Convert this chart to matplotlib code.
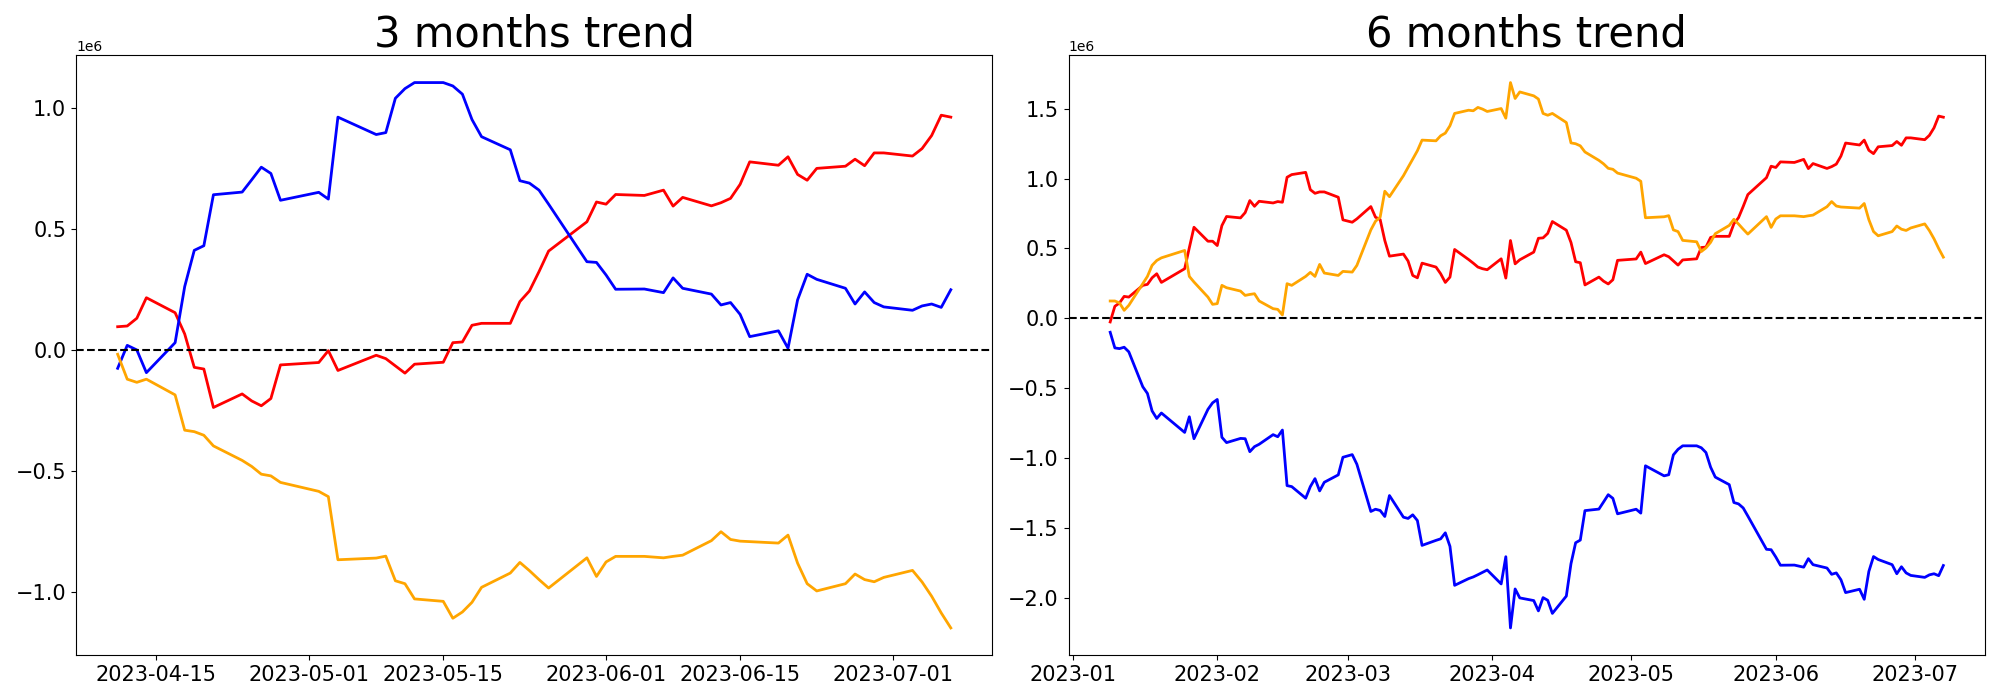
import pandas as pd
import matplotlib
matplotlib.use("Agg")
import matplotlib.pyplot as plt

# ----------------------------
# trading calendar (KRX holidays in window)
# ----------------------------
krx_holidays = ["2023-01-23", "2023-01-24", "2023-03-01", "2023-05-01",
                "2023-05-05", "2023-05-29", "2023-06-06"]

dates_3m = pd.bdate_range("2023-04-11", "2023-07-07", freq="C", holidays=krx_holidays)
dates_6m = pd.bdate_range("2023-01-09", "2023-07-07", freq="C", holidays=krx_holidays)

# ----------------------------
# 3 months (cumulative, 1e6)
# ----------------------------
red_3m = [0.096, 0.099, 0.131, 0.216, 0.154, 0.066, -0.072, -0.079, -0.238, -0.182, -0.211, -0.231, -0.201, -0.062,
          -0.052, -0.003, -0.085, -0.022, -0.036, -0.066, -0.096, -0.059, -0.051, 0.030, 0.033, 0.102, 0.110, 0.110,
          0.200, 0.244, 0.324, 0.409, 0.530, 0.612,
          0.603, 0.643, 0.639, 0.661, 0.595, 0.631, 0.596, 0.609, 0.627, 0.685, 0.778, 0.764, 0.799, 0.726, 0.702,
          0.751, 0.760, 0.789, 0.762, 0.815, 0.815,
          0.802, 0.833, 0.887, 0.971, 0.963]
blue_3m = [-0.076, 0.019, 0.000, -0.094, 0.030, 0.262, 0.412, 0.431, 0.642, 0.653, 0.704, 0.756, 0.730, 0.619,
           0.652, 0.624, 0.963, 0.891, 0.899, 1.041, 1.081, 1.106, 1.106, 1.092, 1.058, 0.953, 0.882, 0.828,
           0.700, 0.690, 0.661, 0.603, 0.365, 0.362,
           0.310, 0.251, 0.252, 0.237, 0.298, 0.255, 0.231, 0.186, 0.196, 0.147, 0.055, 0.079, 0.007, 0.207, 0.313,
           0.292, 0.255, 0.190, 0.240, 0.196, 0.178,
           0.164, 0.182, 0.190, 0.176, 0.249]
orange_3m = [-0.018, -0.121, -0.134, -0.121, -0.186, -0.332, -0.338, -0.353, -0.397, -0.457, -0.482, -0.514, -0.521, -0.548,
             -0.585, -0.607, -0.868, -0.861, -0.853, -0.955, -0.967, -1.030, -1.040, -1.110, -1.084, -1.044, -0.982, -0.923,
             -0.879, -0.913, -0.950, -0.985, -0.860, -0.937,
             -0.877, -0.854, -0.854, -0.860, -0.854, -0.849, -0.789, -0.752, -0.784, -0.791, -0.793, -0.799, -0.766, -0.882, -0.967,
             -0.997, -0.967, -0.927, -0.950, -0.959, -0.941,
             -0.912, -0.960, -1.019, -1.088, -1.150]

# ----------------------------
# 6 months (cumulative, 1e6)
# ----------------------------
red_6m = [-0.026, 0.086, 0.110, 0.157, 0.152, 0.236, 0.243, 0.290, 0.319, 0.257, 0.355, 0.505, 0.652, 0.552, 0.552,
          0.521, 0.664, 0.729, 0.719, 0.757, 0.843, 0.802, 0.838, 0.826, 0.836, 0.831, 1.010, 1.029, 1.045, 0.921,
          0.895, 0.905, 0.905, 0.867, 0.705,
          0.688, 0.712, 0.800, 0.724, 0.707, 0.557, 0.445, 0.460, 0.410, 0.307, 0.290, 0.395, 0.367, 0.319, 0.257,
          0.295, 0.493, 0.421, 0.395, 0.367, 0.355, 0.348,
          0.426, 0.288, 0.557, 0.390, 0.419, 0.474,
          0.573, 0.576, 0.608, 0.693, 0.631, 0.543, 0.405, 0.398, 0.239, 0.295, 0.266, 0.246, 0.276, 0.415,
          0.425, 0.474, 0.392, 0.455, 0.441, 0.411, 0.381, 0.418, 0.426, 0.507, 0.510, 0.579, 0.587, 0.587,
          0.677, 0.721, 0.801, 0.886, 1.007, 1.089,
          1.080, 1.120, 1.116, 1.138, 1.072, 1.108, 1.073, 1.086, 1.104, 1.162, 1.255, 1.241, 1.276, 1.203, 1.179,
          1.228, 1.237, 1.266, 1.239, 1.292, 1.292,
          1.279, 1.310, 1.364, 1.448, 1.440]
blue_6m = [-0.100, -0.212, -0.217, -0.207, -0.240, -0.490, -0.538, -0.663, -0.717, -0.678, -0.817, -0.705, -0.862, -0.652, -0.605,
           -0.581, -0.852, -0.890, -0.860, -0.862, -0.955, -0.919, -0.902, -0.833, -0.848, -0.800, -1.198, -1.205, -1.288, -1.205,
           -1.148, -1.236, -1.174, -1.121, -0.995,
           -0.976, -1.045, -1.383, -1.367, -1.376, -1.419, -1.269, -1.424, -1.433, -1.407, -1.448, -1.626, -1.590, -1.579, -1.536,
           -1.633, -1.912, -1.864, -1.852, -1.836, -1.819, -1.802,
           -1.902, -1.707, -2.217, -1.938, -2.002, -2.021,
           -2.095, -2.000, -2.019, -2.113, -1.989, -1.757, -1.607, -1.588, -1.377, -1.366, -1.315, -1.263, -1.289, -1.400,
           -1.367, -1.395, -1.056, -1.128, -1.120, -0.978, -0.938, -0.913, -0.913, -0.927, -0.961, -1.066, -1.137, -1.191,
           -1.319, -1.329, -1.358, -1.416, -1.654, -1.657,
           -1.709, -1.768, -1.767, -1.782, -1.721, -1.764, -1.788, -1.833, -1.823, -1.872, -1.964, -1.940, -2.012, -1.812, -1.706,
           -1.727, -1.764, -1.829, -1.779, -1.823, -1.841,
           -1.855, -1.837, -1.829, -1.843, -1.770]
orange_6m = [0.124, 0.124, 0.110, 0.057, 0.093, 0.248, 0.300, 0.379, 0.414, 0.433, 0.486, 0.300, 0.260, 0.152, 0.100,
             0.105, 0.236, 0.219, 0.195, 0.164, 0.171, 0.176, 0.124, 0.069, 0.064, 0.024, 0.248, 0.236, 0.300, 0.329,
             0.300, 0.386, 0.324, 0.307, 0.336,
             0.331, 0.379, 0.633, 0.695, 0.724, 0.910, 0.871, 1.021, 1.081, 1.140, 1.200, 1.276, 1.271, 1.307, 1.326,
             1.379, 1.467, 1.490, 1.486, 1.510, 1.498, 1.481,
             1.502, 1.433, 1.688, 1.574, 1.621, 1.593,
             1.570, 1.467, 1.454, 1.467, 1.402, 1.256, 1.250, 1.235, 1.191, 1.131, 1.106, 1.074, 1.067, 1.040,
             1.003, 0.981, 0.720, 0.727, 0.735, 0.633, 0.621, 0.558, 0.548, 0.478, 0.504, 0.544, 0.606, 0.665,
             0.709, 0.675, 0.638, 0.603, 0.728, 0.651,
             0.711, 0.734, 0.734, 0.728, 0.734, 0.739, 0.799, 0.836, 0.804, 0.797, 0.795, 0.789, 0.822, 0.706, 0.621,
             0.591, 0.621, 0.661, 0.638, 0.629, 0.647,
             0.676, 0.628, 0.569, 0.500, 0.438]

scale = 1e6

panels = [
    ("3 months trend", dates_3m, red_3m, blue_3m, orange_3m),
    ("6 months trend", dates_6m, red_6m, blue_6m, orange_6m),
]

fig, axes = plt.subplots(1, 2, figsize=(20, 7), dpi=100)
fig.subplots_adjust(left=0.038, right=0.9925, top=0.921, bottom=0.064, wspace=0.083)

for ax, (title, dates, red, blue, orange) in zip(axes, panels):
    ax.plot(dates, [v * scale for v in red], color="red", linewidth=2)
    ax.plot(dates, [v * scale for v in blue], color="blue", linewidth=2)
    ax.plot(dates, [v * scale for v in orange], color="orange", linewidth=2)
    ax.axhline(0, color="black", linestyle="--", linewidth=1.5)
    ax.set_title(title, fontsize=30)
    ax.tick_params(axis="both", labelsize=15)

fig.savefig("out.png", dpi=100)
